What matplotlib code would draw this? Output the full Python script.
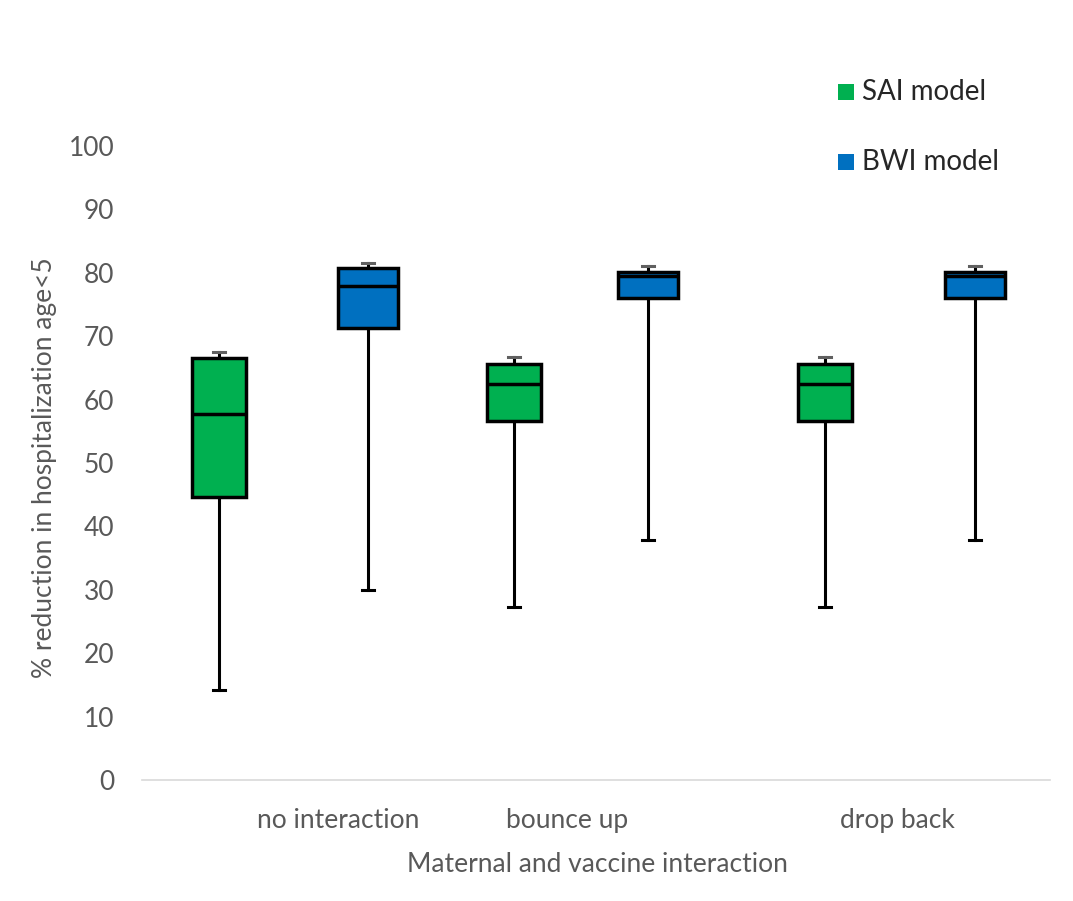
import matplotlib.pyplot as plt
from matplotlib.patches import Rectangle

# values (percent reduction)
categories = ["no interaction", "bounce up", "drop back"]
models = ["SAI model", "BWI model"]
colors = ["#00B050", "#0070C0"]

sai_low = [14.2, 27.3, 27.3]
sai_q1 = [44.6, 56.6, 56.6]
sai_med = [57.7, 62.5, 62.5]
sai_q3 = [66.6, 65.6, 65.6]
sai_high = [67.5, 66.7, 66.7]

bwi_low = [30.0, 37.9, 37.9]
bwi_q1 = [71.3, 76.0, 76.0]
bwi_med = [77.9, 79.5, 79.5]
bwi_q3 = [80.8, 80.1, 80.1]
bwi_high = [81.5, 81.1, 81.1]

# layout (horizontal units, Excel-like spacing)
sai_pos = [77, 372, 683]
bwi_pos = [226, 506, 833]
label_pos = [196, 425, 755]

plt.rcParams['font.family'] = ['Lato', 'DejaVu Sans']
TXT = "#595959"

fig = plt.figure(figsize=(10.73, 9.01), dpi=100)
ax = fig.add_axes([142 / 1073, 121 / 901, 908 / 1073, 634 / 901])


def stats(low, q1, med, q3, high):
    return [dict(whislo=a, q1=b, med=c, q3=d, whishi=e)
            for a, b, c, d, e in zip(low, q1, med, q3, high)]


for st, pos, col, w in [
    (stats(sai_low, sai_q1, sai_med, sai_q3, sai_high), sai_pos, colors[0], 54),
    (stats(bwi_low, bwi_q1, bwi_med, bwi_q3, bwi_high), bwi_pos, colors[1], 60),
]:
    bp = ax.bxp(st, positions=pos, widths=w, patch_artist=True,
                showfliers=False, capwidths=12,
                boxprops=dict(facecolor=col, edgecolor="black", linewidth=2.5),
                medianprops=dict(color="black", linewidth=2.5),
                whiskerprops=dict(color="black", linewidth=2.2),
                capprops=dict(color="black", linewidth=2.2))
    # upper caps are grey in the reference
    for i, cap in enumerate(bp["caps"]):
        if i % 2 == 1:
            cap.set_color("#606060")
    for b in bp["boxes"]:
        b.set_zorder(3)
    for m in bp["medians"]:
        m.set_zorder(4)

ax.set_xlim(0, 908)
ax.set_ylim(0, 100)
ax.set_yticks(range(0, 101, 10))
ax.set_xticks(label_pos)
ax.set_xticklabels(categories)
ax.tick_params(axis="both", length=0, labelsize=19, colors=TXT)
ax.tick_params(axis="y", pad=20)
ax.tick_params(axis="x", pad=20)
for s in ["top", "right", "left"]:
    ax.spines[s].set_visible(False)
ax.spines["bottom"].set_color("#D9D9D9")
ax.spines["bottom"].set_linewidth(1.2)

ax.set_xlabel("Maternal and vaccine interaction", fontsize=19, color=TXT)
ax.set_ylabel("% reduction in hospitalization age<5", fontsize=19, color=TXT)
ax.xaxis.set_label_coords((597 - 142) / 908, -72 / 634)
ax.yaxis.set_label_coords(-85 / 908, (780 - 468) / 634)

# legend drawn as in the reference (squares with text)
for i, (name, col) in enumerate(zip(models, colors)):
    yy = 1 - (92 + 70 * i) / 901
    fig.patches.append(Rectangle((838 / 1073, yy - 8 / 901), 16 / 1073, 16 / 901,
                                 facecolor=col, edgecolor="none",
                                 transform=fig.transFigure, figure=fig))
    fig.text(862 / 1073, yy, name, fontsize=20, color="#262626", va="center")

fig.savefig("out.png", dpi=100)
